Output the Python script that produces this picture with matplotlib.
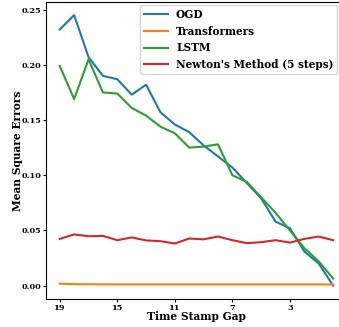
import matplotlib.pyplot as plt

# time stamp gap (x axis runs from 19 down to 0)
gaps = list(range(19, -1, -1))

ogd = [0.232, 0.245, 0.207, 0.190, 0.187, 0.173, 0.182, 0.157, 0.146, 0.139,
       0.127, 0.117, 0.107, 0.093, 0.079, 0.058, 0.052, 0.031, 0.020, 0.000]
transformers = [0.0018, 0.0014, 0.0013, 0.0012, 0.0012, 0.0012, 0.0012, 0.0012, 0.0012, 0.0012,
                0.0012, 0.0012, 0.0012, 0.0012, 0.0012, 0.0012, 0.0012, 0.0012, 0.0012, 0.0011]
lstm = [0.199, 0.169, 0.205, 0.175, 0.174, 0.161, 0.154, 0.144, 0.138, 0.125,
        0.126, 0.128, 0.100, 0.094, 0.080, 0.066, 0.050, 0.034, 0.022, 0.0065]
newton = [0.0424, 0.0464, 0.0448, 0.0451, 0.0412, 0.0437, 0.0410, 0.0403, 0.0382, 0.0427,
          0.0420, 0.0445, 0.0412, 0.0385, 0.0394, 0.0412, 0.0390, 0.0424, 0.0445, 0.0412]

xticks = [19, 15, 11, 7, 3]

plt.rcParams['font.family'] = 'DejaVu Serif'
plt.rcParams['font.weight'] = 'bold'

fig = plt.figure(figsize=(3.39, 3.27), dpi=100)
ax = fig.add_axes([0.136, 0.085, 0.887, 0.91])

ax.plot(gaps, ogd, color='#1f77b4', lw=1.5, label='OGD')
ax.plot(gaps, transformers, color='#ff7f0e', lw=1.5, label='Transformers')
ax.plot(gaps, lstm, color='#2ca02c', lw=1.5, label='LSTM')
ax.plot(gaps, newton, color='#d62728', lw=1.5, label="Newton's Method (5 steps)")

ax.invert_xaxis()
ax.set_xticks(xticks)
ax.set_yticks([0.0, 0.05, 0.10, 0.15, 0.20, 0.25])
ax.tick_params(labelsize=5.9, length=2.2, pad=1)
for lab in ax.get_xticklabels() + ax.get_yticklabels():
    lab.set_fontweight('bold')

ax.set_xlabel('Time Stamp Gap', fontsize=7.7, fontweight='bold')
ax.set_ylabel('Mean Square Errors', fontsize=7.7, fontweight='bold')
ax.xaxis.set_label_coords(0.5, -0.038)
ax.yaxis.set_label_coords(-0.077, 0.5)

leg = ax.legend(loc='upper left', bbox_to_anchor=(0.3126, 0.9886), borderaxespad=0,
                prop={'weight': 'bold', 'size': 7.6}, handlelength=2.25,
                handletextpad=0.8, borderpad=0.35, labelspacing=0.55)

fig.savefig('out.png', dpi=100)
